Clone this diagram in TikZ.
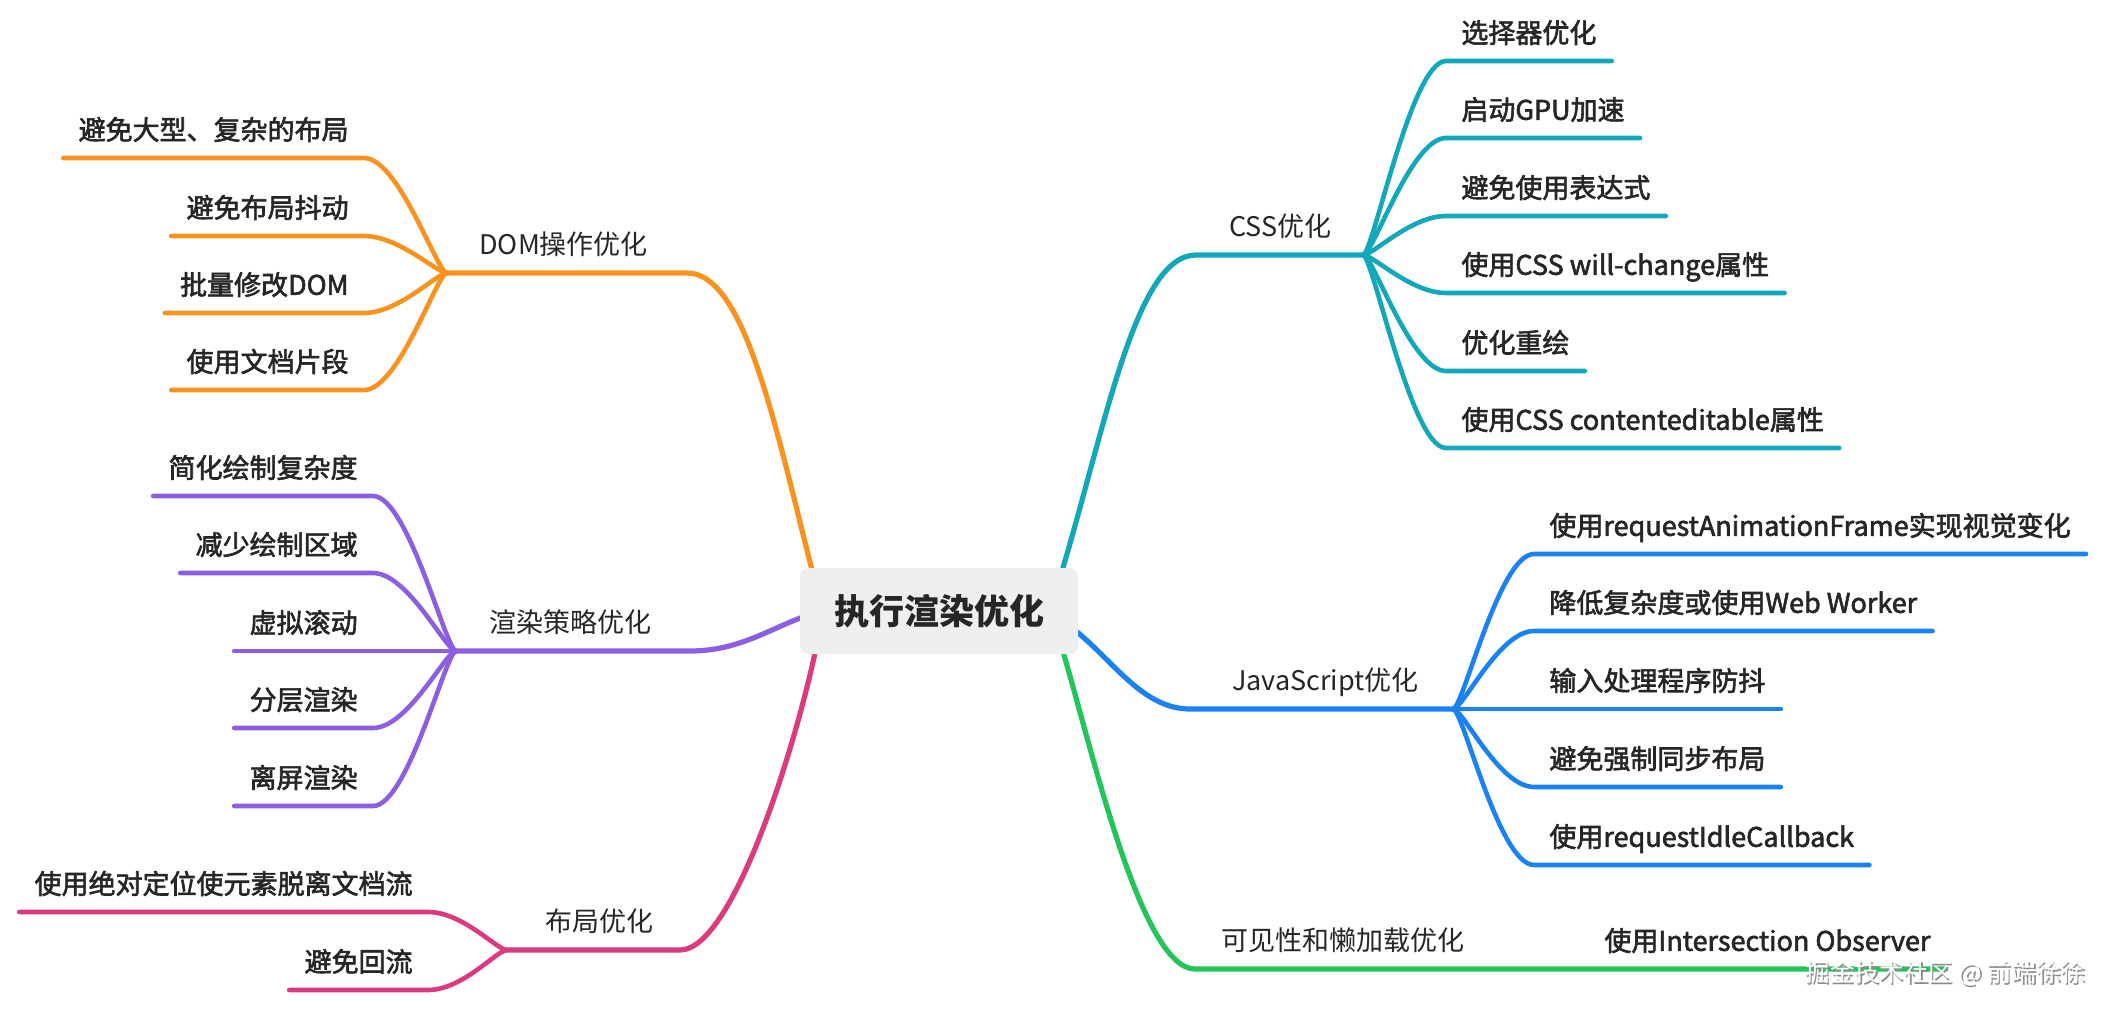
\documentclass[tikz,border=0pt]{standalone}
\usepackage{fontspec}
\setmainfont{Noto Sans CJK SC}
\newfontfamily\leaffont{Noto Sans CJK SC}[FakeBold=2.2]
\usetikzlibrary{positioning}

\definecolor{ink}{HTML}{262626}
\definecolor{rootgray}{HTML}{EEF0EF}
\definecolor{cDOM}{HTML}{F7931E}
\definecolor{cRender}{HTML}{8C5FE0}
\definecolor{cLayout}{HTML}{DC3A80}
\definecolor{cCSS}{HTML}{12A8BA}
\definecolor{cJS}{HTML}{1A82F2}
\definecolor{cVis}{HTML}{22C55A}

\begin{document}
\begin{tikzpicture}[
    x=0.5pt, y=-0.5pt,
    leaf text/.style={inner xsep=7.5pt, inner ysep=7.3pt, text height=11.9pt, text depth=1.6pt,
        font=\leaffont\fontsize{13.5}{16}\selectfont, text=ink},
    branch text/.style={leaf text, font=\fontsize{13.5}{16}\selectfont},
    root box/.style={fill=rootgray, rounded corners=4pt, minimum width=139pt, minimum height=43pt,
        font=\bfseries\fontsize{17.5}{20}\selectfont, text=ink},
    branch line/.style={line width=2.6pt, line cap=round},
    leaf line/.style={line width=2.3pt, line cap=round},
]
\useasboundingbox (0,0) rectangle (2116,1012);

% Hubs and bends of the main branches
\coordinate (hD) at (447,273);
\coordinate (cD) at (687,273);
\coordinate (oD) at (815,582);
\coordinate (hR) at (456,651);
\coordinate (cR) at (690,651);
\coordinate (oR) at (811,614);
\coordinate (hL) at (507,950);
\coordinate (cL) at (680,950);
\coordinate (oL) at (817,643);
\coordinate (hC) at (1363,255);
\coordinate (cC) at (1196,255);
\coordinate (oC) at (1059,581);
\coordinate (hJ) at (1453,709);
\coordinate (cJ) at (1190,709);
\coordinate (oJ) at (1068,625);
\coordinate (cV) at (1195,969);
\coordinate (oV) at (1061,645);

% Branch labels
\node[branch text, anchor=south west] (nD) at (464,273) {DOM操作优化};
\node[branch text, anchor=south west] (nR) at (474,651) {渲染策略优化};
\node[branch text, anchor=south west] (nL) at (530,950) {布局优化};
\node[branch text, anchor=south east] (nC) at (1347,255) {CSS优化};
\node[branch text, anchor=south east] (nJ) at (1434,709) {JavaScript优化};
\node[branch text, anchor=south west] (nV) at (1206,969) {可见性和懒加载优化};

% Main branches
\draw[branch line, cDOM] (oD) .. controls (775,425) and (745,273) .. (cD) -- (hD);
\draw[branch line, cRender] (oR) .. controls (770,628) and (740,651) .. (cR) -- (hR);
\draw[branch line, cLayout] (oL) .. controls (800,730) and (735,950) .. (cL) -- (hL);
\draw[branch line, cCSS] (oC) .. controls (1105,430) and (1135,255) .. (cC) -- (hC);
\draw[branch line, cJS] (oJ) .. controls (1110,655) and (1140,709) .. (cJ) -- (hJ);

% DOM leaves
\node[leaf text, anchor=south east] (d1) at (364,158) {避免大型、复杂的布局};
\node[leaf text, anchor=south east] (d2) at (364,236) {避免布局抖动};
\node[leaf text, anchor=south east] (d3) at (364,313) {批量修改DOM};
\node[leaf text, anchor=south east] (d4) at (364,390) {使用文档片段};
\draw[leaf line, cDOM] (d1.south west) -- (d1.south east) .. controls +(35,0) and +(-10,0) .. (hD);
\draw[leaf line, cDOM] (d2.south west) -- (d2.south east) .. controls +(35,0) and +(-10,0) .. (hD);
\draw[leaf line, cDOM] (d3.south west) -- (d3.south east) .. controls +(35,0) and +(-10,0) .. (hD);
\draw[leaf line, cDOM] (d4.south west) -- (d4.south east) .. controls +(35,0) and +(-10,0) .. (hD);

% Render leaves
\node[leaf text, anchor=south east] (r1) at (373,496) {简化绘制复杂度};
\node[leaf text, anchor=south east] (r2) at (373,573) {减少绘制区域};
\node[leaf text, anchor=south east] (r3) at (373,651) {虚拟滚动};
\node[leaf text, anchor=south east] (r4) at (373,728) {分层渲染};
\node[leaf text, anchor=south east] (r5) at (373,806) {离屏渲染};
\draw[leaf line, cRender] (r1.south west) -- (r1.south east) .. controls +(35,0) and +(-10,0) .. (hR);
\draw[leaf line, cRender] (r2.south west) -- (r2.south east) .. controls +(35,0) and +(-10,0) .. (hR);
\draw[leaf line, cRender] (r3.south west) -- (hR);
\draw[leaf line, cRender] (r4.south west) -- (r4.south east) .. controls +(35,0) and +(-10,0) .. (hR);
\draw[leaf line, cRender] (r5.south west) -- (r5.south east) .. controls +(35,0) and +(-10,0) .. (hR);

% Layout leaves
\node[leaf text, anchor=south east] (l1) at (428,912) {使用绝对定位使元素脱离文档流};
\node[leaf text, anchor=south east] (l2) at (428,990) {避免回流};
\draw[leaf line, cLayout] (l1.south west) -- (l1.south east) .. controls +(35,0) and +(-10,0) .. (hL);
\draw[leaf line, cLayout] (l2.south west) -- (l2.south east) .. controls +(35,0) and +(-10,0) .. (hL);

% CSS leaves
\node[leaf text, anchor=south west] (c1) at (1446,61) {选择器优化};
\node[leaf text, anchor=south west] (c2) at (1446,138) {启动GPU加速};
\node[leaf text, anchor=south west] (c3) at (1446,216) {避免使用表达式};
\node[leaf text, anchor=south west] (c4) at (1446,293) {使用CSS will-change属性};
\node[leaf text, anchor=south west] (c5) at (1446,371) {优化重绘};
\node[leaf text, anchor=south west] (c6) at (1446,448) {使用CSS contenteditable属性};
\draw[leaf line, cCSS] (hC) .. controls +(10,0) and +(-35,0) .. (c1.south west) -- (c1.south east);
\draw[leaf line, cCSS] (hC) .. controls +(10,0) and +(-35,0) .. (c2.south west) -- (c2.south east);
\draw[leaf line, cCSS] (hC) .. controls +(10,0) and +(-35,0) .. (c3.south west) -- (c3.south east);
\draw[leaf line, cCSS] (hC) .. controls +(10,0) and +(-35,0) .. (c4.south west) -- (c4.south east);
\draw[leaf line, cCSS] (hC) .. controls +(10,0) and +(-35,0) .. (c5.south west) -- (c5.south east);
\draw[leaf line, cCSS] (hC) .. controls +(10,0) and +(-35,0) .. (c6.south west) -- (c6.south east);

% JavaScript leaves
\node[leaf text, anchor=south west] (j1) at (1534,554) {使用requestAnimationFrame实现视觉变化};
\node[leaf text, anchor=south west] (j2) at (1534,631) {降低复杂度或使用Web Worker};
\node[leaf text, anchor=south west] (j3) at (1534,709) {输入处理程序防抖};
\node[leaf text, anchor=south west] (j4) at (1534,787) {避免强制同步布局};
\node[leaf text, anchor=south west] (j5) at (1534,865) {使用requestIdleCallback};
\draw[leaf line, cJS] (hJ) .. controls +(10,0) and +(-35,0) .. (j1.south west) -- (j1.south east);
\draw[leaf line, cJS] (hJ) .. controls +(10,0) and +(-35,0) .. (j2.south west) -- (j2.south east);
\draw[leaf line, cJS] (hJ) -- (j3.south east);
\draw[leaf line, cJS] (hJ) .. controls +(10,0) and +(-35,0) .. (j4.south west) -- (j4.south east);
\draw[leaf line, cJS] (hJ) .. controls +(10,0) and +(-35,0) .. (j5.south west) -- (j5.south east);

% Visibility branch, single leaf on the same line
\node[leaf text, anchor=south west] (v1) at (1589,969) {使用Intersection Observer};
\draw[branch line, cVis] (oV) .. controls (1090,740) and (1140,969) .. (cV) -- (v1.south east);

% Root
\node[root box] (root) at (939,611) {执行渲染优化};

% Watermark
\node[anchor=west, inner sep=0pt, font=\fontsize{12.3}{14}\selectfont, text=black!45] (wmshade) at (1806.5,975) {掘金技术社区 @ 前端徐徐};
\node[anchor=west, inner sep=0pt, font=\fontsize{12.3}{14}\selectfont, text=white] (wm) at (1805,973) {掘金技术社区 @ 前端徐徐};

\end{tikzpicture}
\end{document}
